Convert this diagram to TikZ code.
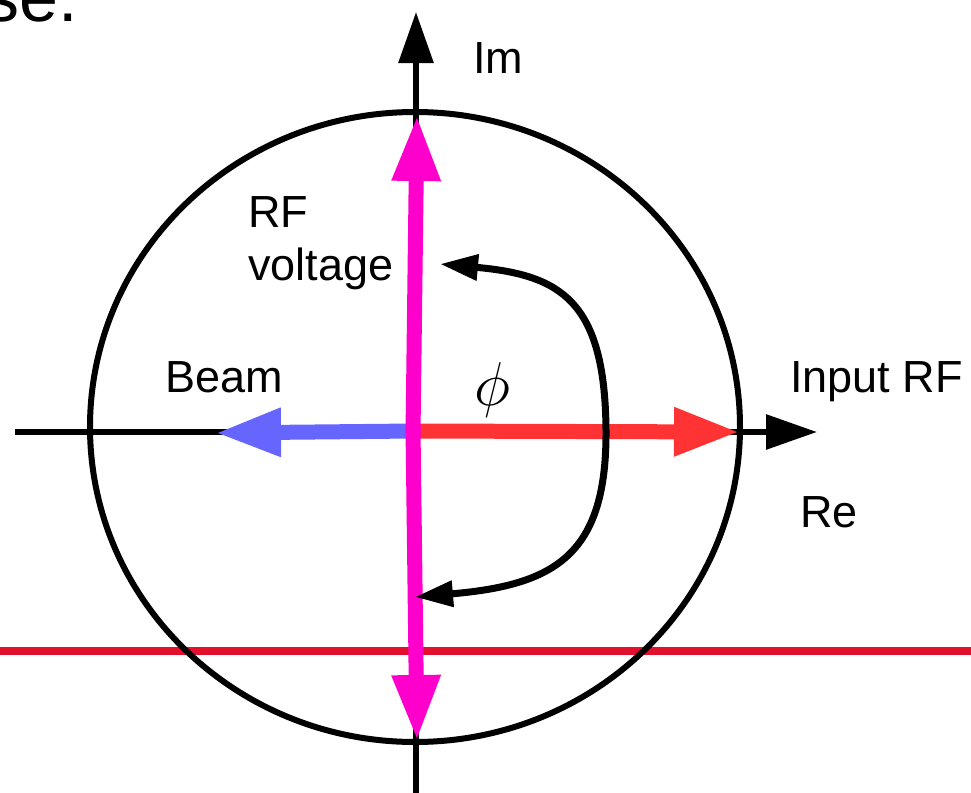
\RequirePackage{fix-cm}
\documentclass[tikz,border=0pt]{standalone}
\usepackage{fontspec}
\setmainfont{Liberation Sans}
\usetikzlibrary{arrows.meta,positioning}
\definecolor{rfred}{HTML}{FF3333}
\definecolor{beamblue}{HTML}{6666FF}
\definecolor{voltmag}{HTML}{FF00CC}
\definecolor{crim}{HTML}{E3102D}
\tikzset{
  axis/.style={line width=3pt, -{Triangle[length=25.5pt,width=17pt]}},
  vec/.style={line width=7.5pt, -{Triangle[length=33pt,width=22.5pt]}},
  turn/.style={line width=3.5pt, {Triangle[length=19pt,width=12.5pt]}-{Triangle[length=19pt,width=12.5pt]}},
  lbl/.style={inner sep=0pt, font=\fontsize{22.5}{26.5}\selectfont}
}

\begin{document}
\begin{tikzpicture}[x=0.5pt, y=-0.5pt]
  \useasboundingbox (0,0) rectangle (971,793);
  % points
  \coordinate (O) at (414,431);
  \coordinate (reL) at (15,432);  \coordinate (reR) at (817,432);
  \coordinate (imB) at (416,800); \coordinate (imT) at (416,12);
  \coordinate (inTip) at (740,432);
  \coordinate (bmTip) at (215,433);
  \coordinate (vUp) at (417,115); \coordinate (vDn) at (417,741);
  \coordinate (lL) at (0,651);    \coordinate (lR) at (971,651);
  \coordinate (tTop) at (440,264); \coordinate (tMid) at (606,430); \coordinate (tBot) at (415,597);
  % level line, axes, circle
  \draw[crim, line width=4pt] (lL) -- (lR);
  \draw[axis] (reL) -- (reR);
  \draw[axis] (imB) -- (imT);
  \draw[line width=3pt] (415,427) ellipse [x radius=325, y radius=315];
  % vectors
  \draw[vec, beamblue] (O) -- (bmTip);
  \draw[vec, rfred] (O) -- (inTip);
  \draw[vec, voltmag] (413,434) -- (vUp);
  \draw[vec, voltmag] (413,428) -- (vDn);
  \draw[turn] (tTop) .. controls (560,275) and (605,300) .. (tMid)
                     .. controls (607,555) and (555,585) .. (tBot);
  % labels
  \node[anchor=base east, inner sep=0pt, font=\fontsize{35}{40}\selectfont] (se) at (78,21) {se.};
  \node[lbl, anchor=base west] (im) at (473,73) {Im};
  \node[lbl, anchor=base west] (rf) at (248,227) {RF};
  \node[lbl, anchor=base west] (volt) at (248,280) {voltage};
  \node[lbl, anchor=base west] (beam) at (165,392) {Beam};
  \node[lbl, anchor=base west] (input) at (790,392) {Input RF};
  \node[lbl, anchor=base west] (re) at (800,527) {Re};
  \node[font=\fontsize{31}{36}\selectfont, inner sep=0pt] (phi) at (492,390) {$\phi$};
\end{tikzpicture}
\end{document}
